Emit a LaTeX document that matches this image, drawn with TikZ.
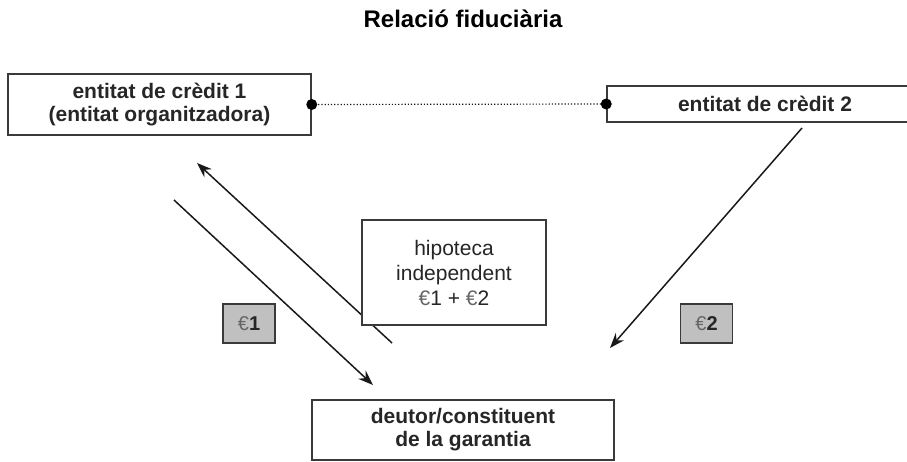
\documentclass[tikz,border=0pt]{standalone}
\usepackage{fontspec}
\setmainfont{Liberation Sans}
\usetikzlibrary{arrows.meta}

\definecolor{boxline}{HTML}{3A3A3A}
\definecolor{eurofill}{HTML}{C0C0C0}
\newcommand{\eur}{{\color{black!60}\mdseries €}}

\begin{document}
\begin{tikzpicture}[x=1pt,y=-1pt,line width=1.5pt,
                    main node/.style={rectangle,draw=boxline,fill=white,align=center,inner sep=0pt,
                                      font=\fontsize{21}{23}\selectfont\bfseries,text=black!85},
                    euro node/.style={rectangle,draw=boxline,fill=eurofill,minimum width=52pt,minimum height=39pt,
                                      inner sep=0pt,font=\fontsize{20}{23}\selectfont\bfseries,text=black!85},
                    flow/.style={-{Stealth[length=15pt,width=11pt]},color=black!90}]
  \useasboundingbox (0,0) rectangle (907,461);

  \node (title) at (463,19) {\fontsize{24}{28}\selectfont\bfseries Relació fiduciària};

  \node[main node,minimum width=303pt,minimum height=61pt] (credit1) at (159.5,104.5) {entitat de crèdit 1\\(entitat organitzadora)};
  \node[main node,minimum width=316pt,minimum height=36pt] (credit2) at (765,104) {entitat de crèdit 2};
  \node[main node,minimum width=302pt,minimum height=60pt] (debtor) at (463,430) {deutor/constituent\\de la garantia};

  \coordinate (up start) at (392,343);
  \coordinate (up end) at (197,163);
  \coordinate (down start) at (174,200);
  \coordinate (down end) at (373,385);
  \coordinate (right start) at (802,128);
  \coordinate (right end) at (610,348);

  \path[flow]
    (up start) edge (up end)
    (down start) edge (down end)
    (right start) edge (right end);

  \node[main node,minimum width=184pt,minimum height=105pt,font=\fontsize{21}{25}\selectfont] (mortgage) at (454,272.5)
    {hipoteca\\independent\\\eur1 + \eur2};

  \node[euro node] (euro1) at (249,323.5) {\eur1};
  \node[euro node] (euro2) at (706.5,323.5) {\eur2};

  \draw[dotted,line width=1.2pt,draw=black!90] (credit1.east) -- (credit2.west);
  \fill[black] (credit1.east) circle (5.5pt);
  \fill[black] (credit2.west) circle (5.5pt);
\end{tikzpicture}
\end{document}
